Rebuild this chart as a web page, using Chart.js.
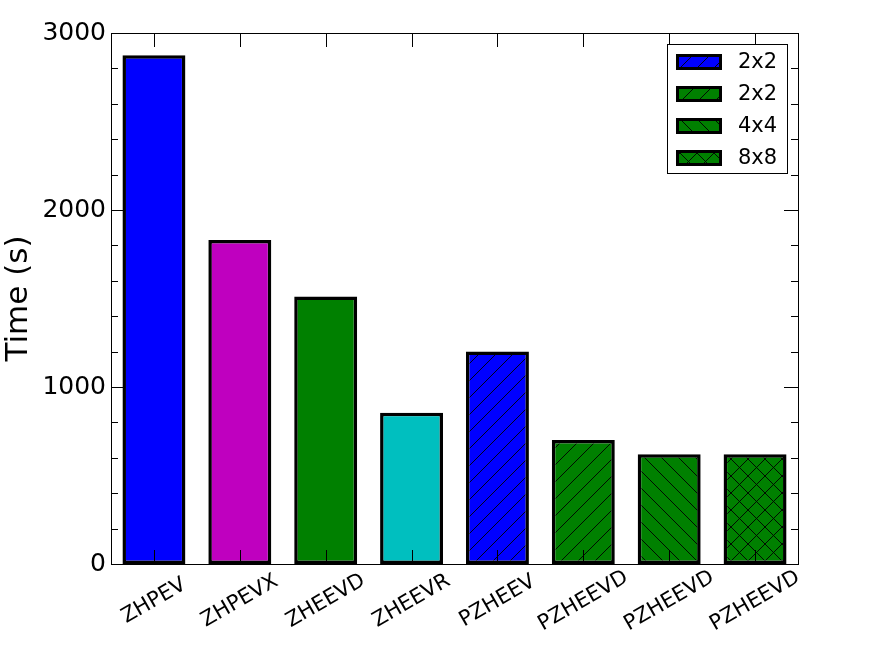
<!DOCTYPE html>
<html>
<head>
<meta charset="utf-8">
<script src="https://cdn.jsdelivr.net/npm/chart.js@4"></script>
<style>
  html, body { margin:0; padding:0; background:#fff; }
  canvas { display:block; }
</style>
</head>
<body>
<canvas id="chart-time" width="886" height="664"></canvas>
<script>
/* ── timings per eigensolver ── */

const routines = ['ZHPEV', 'ZHPEVX', 'ZHEEVD', 'ZHEEVR', 'PZHEEV', 'PZHEEVD', 'PZHEEVD', 'PZHEEVD'];
const times    = [2875, 1830, 1512, 855, 1200, 700, 620, 620];
const colours  = ['#0000ff', '#bf00bf', '#008000', '#00bfbf', '#0000ff', '#008000', '#008000', '#008000'];
const hatches  = ['', '', '', '', '/', '/', '\\', 'x'];

const legendLabels  = ['2x2', '2x2', '4x4', '8x8'];
const legendColours = ['#0000ff', '#008000', '#008000', '#008000'];
const legendHatches = ['/', '/', '\\', 'x'];

const yTicks = [0, 1000, 2000, 3000];
const FONT = "'DejaVu Sans', sans-serif";

// ── hatch patterns (matplotlib-ish) ──
function hatchPattern(colour, kind) {
  if (!kind) return colour;
  const s = 17;
  const c = document.createElement('canvas');
  c.width = s; c.height = s;
  const g = c.getContext('2d');
  g.fillStyle = colour; g.fillRect(0, 0, s, s);
  g.strokeStyle = '#000'; g.lineWidth = 0.9;
  g.beginPath();
  if (kind === '/' || kind === 'x') {
    g.moveTo(-1, s + 1); g.lineTo(s + 1, -1);
    g.moveTo(-1, 1); g.lineTo(1, -1);
    g.moveTo(s - 1, s + 1); g.lineTo(s + 1, s - 1);
  }
  if (kind === '\\' || kind === 'x') {
    g.moveTo(-1, -1); g.lineTo(s + 1, s + 1);
    g.moveTo(s - 1, -1); g.lineTo(s + 1, 1);
    g.moveTo(-1, s - 1); g.lineTo(1, s + 1);
  }
  g.stroke();
  return g.createPattern(c, 'repeat');
}

// ── frame, inward ticks, rotated labels, legend ──
const decorations = {
  id: 'decorations',
  afterDatasetsDraw(chart) {
    const { ctx, chartArea: a, scales: { x, y } } = chart;
    ctx.save();
    ctx.strokeStyle = '#000';
    ctx.lineWidth = 1;

    // frame
    ctx.strokeRect(Math.round(a.left) + 0.5, Math.round(a.top) + 0.5,
                   Math.round(a.right - a.left), Math.round(a.bottom - a.top));

    ctx.beginPath();
    // y ticks: major every 1000, minor every 200
    for (let v = 0; v <= 3000; v += 200) {
      const py = Math.round(y.getPixelForValue(v)) + 0.5;
      const len = v % 1000 === 0 ? 14 : 7;
      ctx.moveTo(a.left, py); ctx.lineTo(a.left + len, py);
      ctx.moveTo(a.right, py); ctx.lineTo(a.right - len, py);
    }
    // x ticks at bar centres, top and bottom
    routines.forEach((_, i) => {
      const px = Math.round(x.getPixelForValue(i)) + 0.5;
      ctx.moveTo(px, a.bottom); ctx.lineTo(px, a.bottom - 14);
      ctx.moveTo(px, a.top); ctx.lineTo(px, a.top + 14);
    });
    ctx.stroke();

    // rotated category labels, centred under each bar
    ctx.fillStyle = '#000';
    ctx.font = `21px ${FONT}`;
    ctx.textAlign = 'center';
    ctx.textBaseline = 'middle';
    routines.forEach((name, i) => {
      ctx.save();
      ctx.translate(x.getPixelForValue(i), a.bottom + 37);
      ctx.rotate(-Math.PI / 6);
      ctx.fillText(name, 0, 0);
      ctx.restore();
    });

    // legend
    const lx = 667, ly = 44, lw = 120, lh = 129;
    ctx.fillStyle = '#fff';
    ctx.fillRect(lx, ly, lw, lh);
    ctx.strokeRect(lx + 0.5, ly + 0.5, lw, lh);
    legendLabels.forEach((lab, i) => {
      const top = ly + 10 + i * 32;
      ctx.fillStyle = hatchPattern(legendColours[i], legendHatches[i]);
      ctx.fillRect(676, top, 46, 16);
      ctx.lineWidth = 3;
      ctx.strokeRect(677.5, top + 1.5, 43, 13);
      ctx.fillStyle = '#000';
      ctx.font = `21px ${FONT}`;
      ctx.textAlign = 'left';
      ctx.fillText(lab, 738, top + 9);
    });
    ctx.restore();
  },
};

document.addEventListener('DOMContentLoaded', () => {
  const ctx = document.getElementById('chart-time');
  new Chart(ctx, {
    type: 'bar',
    data: {
      labels: routines,
      datasets: [{
        data: times,
        backgroundColor: colours.map((c, i) => hatchPattern(c, hatches[i])),
        borderColor: '#000',
        borderWidth: 3.5,
        borderSkipped: false,
        barPercentage: 0.733,
        categoryPercentage: 1.0,
      }],
    },
    options: {
      responsive: false, animation: false,
      layout: { padding: { left: 0, top: 33, right: 88, bottom: 100 } },
      plugins: { legend: { display: false }, tooltip: { enabled: false } },
      scales: {
        x: { display: false },
        y: {
          min: 0, max: 3000,
          afterBuildTicks: s => { s.ticks = yTicks.map(v => ({ value: v })); },
          afterFit: s => { s.width = 111; },
          grid: { display: false, drawTicks: false },
          border: { display: false },
          ticks: { color: '#000', padding: 5, font: { family: FONT, size: 25 },
                   callback: v => String(v) },
          title: { display: true, text: 'Time (s)', color: '#000', padding: 0,
                   font: { family: FONT, size: 31 } },
        },
      },
    },
    plugins: [decorations],
  });
});
</script>
</body>
</html>
